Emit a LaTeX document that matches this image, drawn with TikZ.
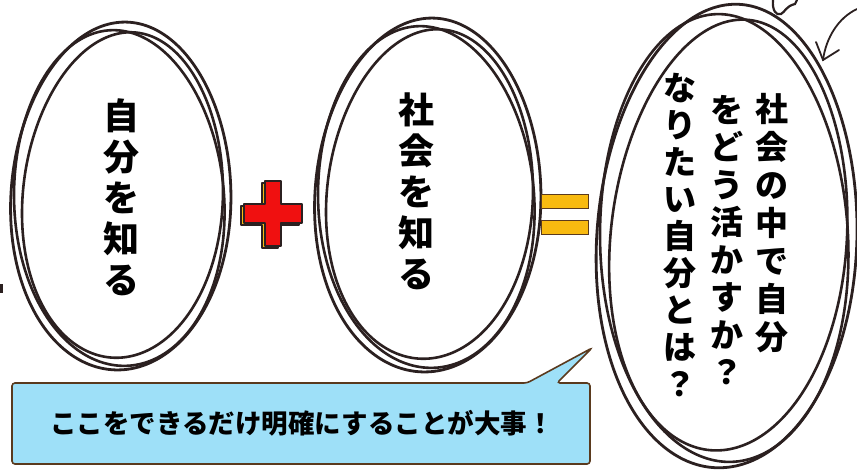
\documentclass[tikz,border=0pt]{standalone}
\usepackage{fontspec}
\newfontfamily\cjk{Noto Sans CJK JP}
\usetikzlibrary{arrows.meta}
\definecolor{ink}{HTML}{2B2020}
\definecolor{boxblue}{HTML}{9EE0F8}
\definecolor{boxbrown}{HTML}{5A3A1E}
\definecolor{plusred}{HTML}{F01010}
\definecolor{gold}{HTML}{F8BA10}
\newcommand{\eggloop}[7]{\draw[eggline, rotate around={#6:(#1,#2)}, line width=#7] plot[domain=0:357,samples=120,smooth cycle,variable=\t] ({#1+#3*cos(\t)*(1+#5*sin(\t))},{#2+#4*sin(\t)});}
\begin{document}
\begin{tikzpicture}[x=1pt,y=-1pt,
  eggline/.style={draw=ink, line cap=round},
  vtext/.style={anchor=north, align=center, inner sep=0pt, text=black},
  crossshape/.style={draw=ink, line width=1.1pt, line join=round}]
\useasboundingbox[fill=white] (0,0) rectangle (857,474);
% egg 1
\eggloop{121}{196}{110}{174}{0.04}{-2}{2.8pt}
\eggloop{119}{198}{105}{168}{0.035}{3}{2.6pt}
\eggloop{123}{195}{100}{163}{0.045}{-4}{2.6pt}
% egg 2
\eggloop{428}{195}{113}{177}{0.04}{-2}{2.8pt}
\eggloop{426}{197}{108}{171}{0.035}{3}{2.6pt}
\eggloop{430}{194}{103}{165}{0.045}{-4}{2.6pt}
% egg 3
\eggloop{727}{236}{130}{232}{0.035}{-3}{2.8pt}
\eggloop{724}{238}{124}{224}{0.03}{2}{2.6pt}
\eggloop{729}{235}{118}{216}{0.04}{-5}{2.6pt}
% texts in eggs
\node[vtext, font=\cjk\bfseries\fontsize{36}{41}\selectfont] (t1) at (121,98) {自\\分\\を\\知\\る};
\node[vtext, font=\cjk\bfseries\fontsize{36}{41}\selectfont] (t2) at (416,93) {社\\会\\を\\知\\る};
\node[vtext, font=\cjk\bfseries\fontsize{33}{38}\selectfont] (t3) at (772,93) {社\\会\\の\\中\\で\\自\\分};
\node[vtext, font=\cjk\bfseries\fontsize{33}{37.5}\selectfont] (t4) at (727,95) {を\\ど\\う\\活\\か\\す\\か\\？};
\node[vtext, font=\cjk\bfseries\fontsize{33}{37}\selectfont] (t5) at (680,73) {な\\り\\た\\い\\自\\分\\と\\は\\？};
% plus
\fill[gold, draw=ink, line width=1.1pt, line join=round, shift={(-3,2)}] (265,181)--(281,181)--(281,204)--(302,204)--(302,223)--(281,223)--(281,246)--(265,246)--(265,223)--(244,223)--(244,204)--(265,204)--cycle;
\fill[plusred, crossshape] (265,181)--(281,181)--(281,204)--(302,204)--(302,223)--(281,223)--(281,246)--(265,246)--(265,223)--(244,223)--(244,204)--(265,204)--cycle;
% equals
\filldraw[fill=gold, draw=boxbrown, line width=0.8pt] (541,194) rectangle (588,208);
\filldraw[fill=gold, draw=boxbrown, line width=0.8pt] (541,220) rectangle (588,234);
% callout
\filldraw[fill=boxblue, draw=boxbrown, line width=1.6pt, rounded corners=3pt]
  (12,383) -- (527,383) -- (592,348) -- (557,383) -- (590,383) -- (590,464) -- (12,464) -- cycle;
\node[font=\cjk\bfseries\fontsize{26.5}{30}\selectfont, text=black] (call) at (302,423) {ここをできるだけ明確にすることが大事！};
% top-right decorations
\draw[ink, line width=2.2pt, line cap=round] (773,0) .. controls (772,10) and (776,16) .. (781,14) .. controls (785,12) and (786,6) .. (795,4) -- (797,0);
\draw[ink, line width=1.8pt, line cap=round] (857,9) .. controls (838,18) and (826,38) .. (823,60);
\draw[ink, line width=1.8pt, line cap=round] (816,42) -- (823,60) -- (839,50);
% left edge mark
\fill[ink] (0,284) rectangle (3,293);
\end{tikzpicture}
\end{document}
